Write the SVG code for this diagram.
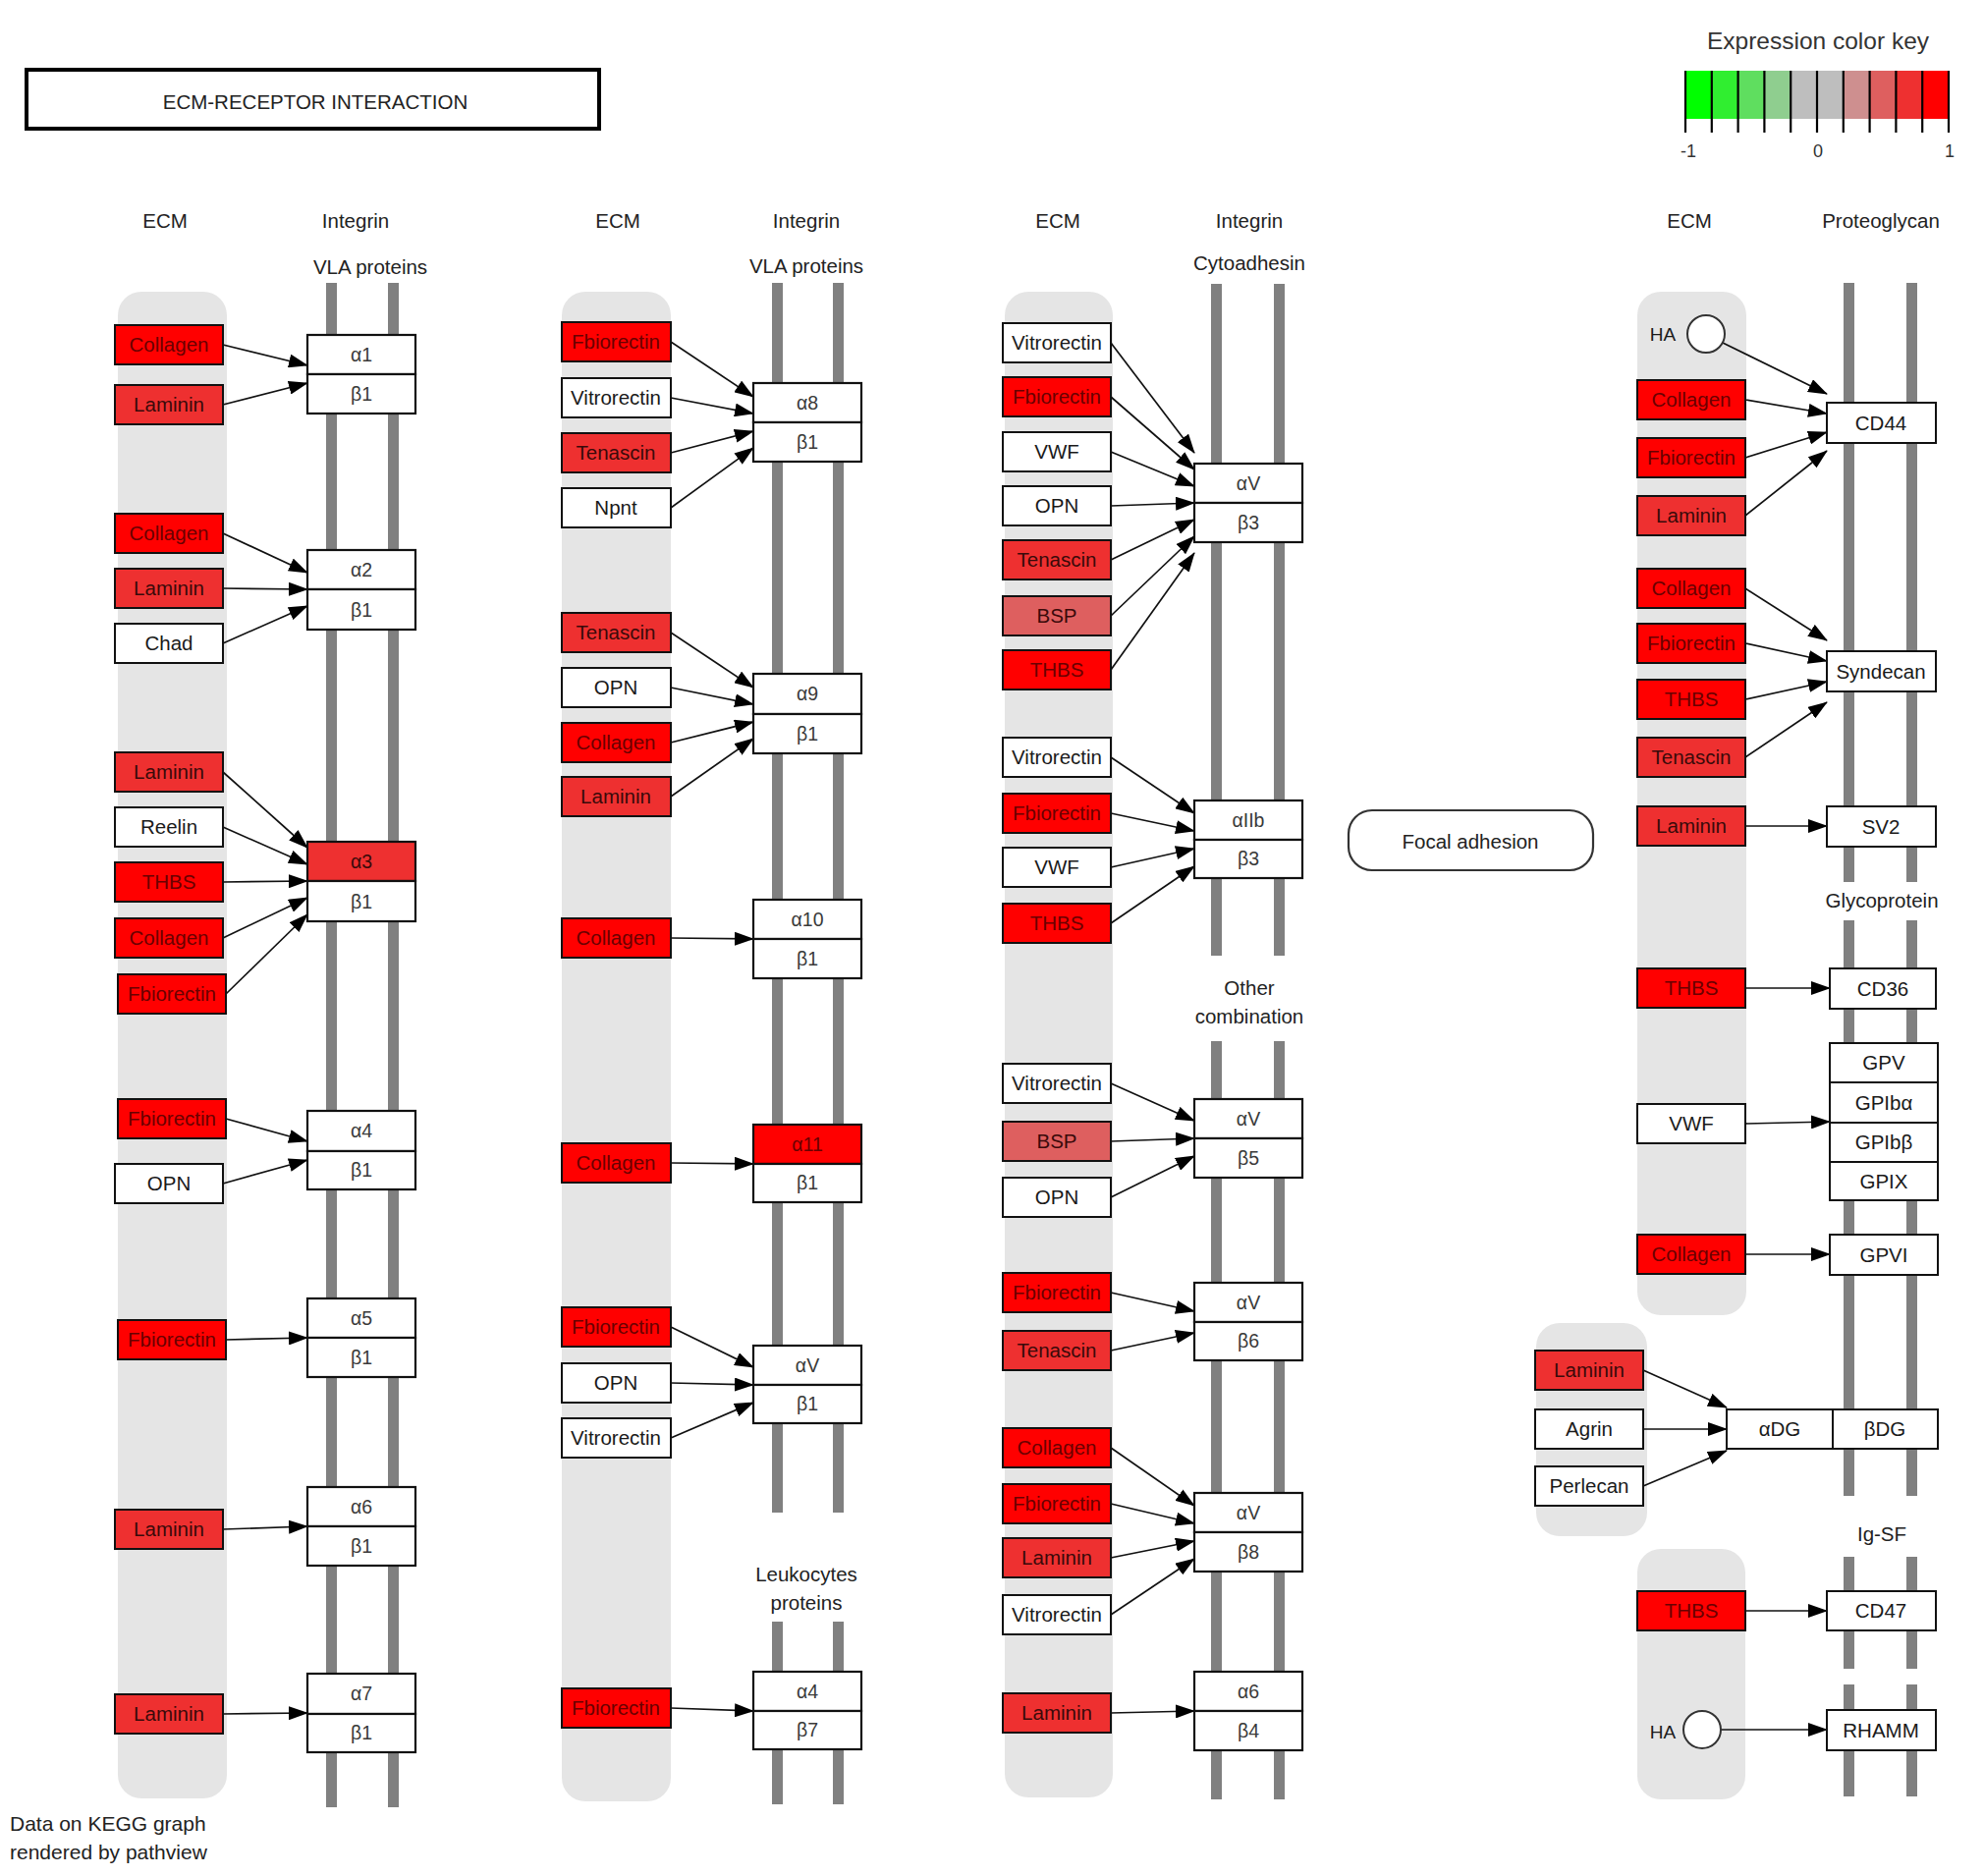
<svg xmlns="http://www.w3.org/2000/svg" width="2020" height="1910" viewBox="0 0 2020 1910">
<defs>
<style>
text{font-family:"Liberation Sans",Arial,Helvetica,sans-serif;text-anchor:middle}
.h{font-size:20.5px;fill:#222}
.t{font-size:20.5px;fill:#1a1a1a}
.tr{font-size:20.5px;fill:#6a0000}
.td{font-size:20.5px;fill:#3a0a0a}
.g{font-size:19.5px;fill:#3a3a3a}
.band{fill:#E5E5E5}
.bar{fill:#808080}
.n rect{stroke:#111;stroke-width:2}
.w{fill:#fff}
.r10{fill:#FF0000}
.r9{fill:#EE3030}
.r8{fill:#DE5F5F}
.i rect{stroke:#111;stroke-width:2.2}
.e line{stroke:#111;stroke-width:1.7;marker-end:url(#ah)}
.ha{fill:#fff;stroke:#333;stroke-width:2}
</style>
<marker id="ah" markerUnits="userSpaceOnUse" markerWidth="20" markerHeight="14" refX="19" refY="7" orient="auto"><path d="M0,0 L20,7 L0,14 z" fill="#000"/></marker>
</defs>
<rect width="2020" height="1910" fill="#fff"/>

<!-- title -->
<g id="title">
<rect x="27" y="71" width="583" height="60" fill="#fff" stroke="#000" stroke-width="4"/>
<text class="h" x="321" y="111">ECM-RECEPTOR INTERACTION</text>
</g>

<!-- color key -->
<g id="colorkey">
<text x="1851" y="50" style="font-size:24.5px;fill:#333">Expression color key</text>
<rect x="1716" y="72" width="26.8" height="49" fill="#00FF00"/>
<rect x="1742.8" y="72" width="26.8" height="49" fill="#30EE30"/>
<rect x="1769.6" y="72" width="26.8" height="49" fill="#5FDE5F"/>
<rect x="1796.4" y="72" width="26.8" height="49" fill="#8FCE8F"/>
<rect x="1823.2" y="72" width="26.8" height="49" fill="#BEBEBE"/>
<rect x="1850" y="72" width="26.8" height="49" fill="#BEBEBE"/>
<rect x="1876.8" y="72" width="26.8" height="49" fill="#CE8F8F"/>
<rect x="1903.6" y="72" width="26.8" height="49" fill="#DE5F5F"/>
<rect x="1930.4" y="72" width="26.8" height="49" fill="#EE3030"/>
<rect x="1957.2" y="72" width="26.8" height="49" fill="#FF0000"/>
<g stroke="#000" stroke-width="2.2">
<line x1="1716" y1="72" x2="1716" y2="135"/><line x1="1742.8" y1="72" x2="1742.8" y2="135"/>
<line x1="1769.6" y1="72" x2="1769.6" y2="135"/><line x1="1796.4" y1="72" x2="1796.4" y2="135"/>
<line x1="1823.2" y1="72" x2="1823.2" y2="135"/><line x1="1850" y1="72" x2="1850" y2="135"/>
<line x1="1876.8" y1="72" x2="1876.8" y2="135"/><line x1="1903.6" y1="72" x2="1903.6" y2="135"/>
<line x1="1930.4" y1="72" x2="1930.4" y2="135"/><line x1="1957.2" y1="72" x2="1957.2" y2="135"/>
<line x1="1984" y1="72" x2="1984" y2="135"/>
</g>
<text x="1719" y="160" style="font-size:18px;fill:#333">-1</text>
<text x="1851" y="160" style="font-size:18px;fill:#333">0</text>
<text x="1985" y="160" style="font-size:18px;fill:#333">1</text>
</g>

<!-- headers -->
<g id="headers" class="h">
<text class="h" x="168" y="232">ECM</text>
<text class="h" x="362" y="232">Integrin</text>
<text class="h" x="377" y="279">VLA proteins</text>
<text class="h" x="629" y="232">ECM</text>
<text class="h" x="821" y="232">Integrin</text>
<text class="h" x="821" y="278">VLA proteins</text>
<text class="h" x="1077" y="232">ECM</text>
<text class="h" x="1272" y="232">Integrin</text>
<text class="h" x="1272" y="275">Cytoadhesin</text>
<text class="h" x="1720" y="232">ECM</text>
<text class="h" x="1915" y="232">Proteoglycan</text>
<text class="h" x="1916" y="924">Glycoprotein</text>
<text class="h" x="1272" y="1013">Other</text>
<text class="h" x="1272" y="1042">combination</text>
<text class="h" x="821" y="1610">Leukocytes</text>
<text class="h" x="821" y="1639">proteins</text>
<text class="h" x="1916" y="1569">Ig-SF</text>
</g>

<!-- background bands and membrane bars -->
<g id="bands">
<rect class="band" x="120" y="297" width="111" height="1534" rx="24"/>
<rect class="band" x="572" y="297" width="111" height="1537" rx="24"/>
<rect class="band" x="1023" y="297" width="110" height="1533" rx="24"/>
<rect class="band" x="1667" y="297" width="111" height="1042" rx="24"/>
<rect class="band" x="1564" y="1347" width="113" height="217" rx="24"/>
<rect class="band" x="1667" y="1577" width="110" height="255" rx="24"/>
</g>
<g id="bars">
<rect class="bar" x="332" y="288" width="11" height="1552"/>
<rect class="bar" x="395" y="288" width="11" height="1552"/>
<rect class="bar" x="786" y="288" width="11" height="1252"/>
<rect class="bar" x="848" y="288" width="11" height="1252"/>
<rect class="bar" x="786" y="1651" width="11" height="186"/>
<rect class="bar" x="848" y="1651" width="11" height="186"/>
<rect class="bar" x="1233" y="289" width="11" height="684"/>
<rect class="bar" x="1297" y="289" width="11" height="684"/>
<rect class="bar" x="1233" y="1060" width="11" height="772"/>
<rect class="bar" x="1297" y="1060" width="11" height="772"/>
<rect class="bar" x="1877" y="288" width="11" height="610"/>
<rect class="bar" x="1941" y="288" width="11" height="610"/>
<rect class="bar" x="1877" y="937" width="11" height="586"/>
<rect class="bar" x="1941" y="937" width="11" height="586"/>
<rect class="bar" x="1877" y="1585" width="11" height="114"/>
<rect class="bar" x="1941" y="1585" width="11" height="114"/>
<rect class="bar" x="1877" y="1715" width="11" height="114"/>
<rect class="bar" x="1941" y="1715" width="11" height="114"/>
</g>

<!-- connectors -->
<g id="connectors" class="e">
<line x1="227" y1="351" x2="313" y2="372"/>
<line x1="227" y1="412" x2="313" y2="390"/>
<line x1="227" y1="543" x2="313" y2="583"/>
<line x1="227" y1="599" x2="313" y2="600"/>
<line x1="227" y1="655" x2="313" y2="617"/>
<line x1="227" y1="786" x2="313" y2="863"/>
<line x1="227" y1="842" x2="313" y2="880"/>
<line x1="227" y1="898" x2="313" y2="897"/>
<line x1="227" y1="955" x2="313" y2="914"/>
<line x1="230" y1="1012" x2="313" y2="931"/>
<line x1="230" y1="1139" x2="313" y2="1162"/>
<line x1="227" y1="1205" x2="313" y2="1181"/>
<line x1="230" y1="1364" x2="313" y2="1362"/>
<line x1="227" y1="1557" x2="313" y2="1554"/>
<line x1="227" y1="1745" x2="313" y2="1744"/>

<line x1="683" y1="348" x2="767" y2="404"/>
<line x1="683" y1="405" x2="767" y2="421"/>
<line x1="683" y1="461" x2="767" y2="439"/>
<line x1="683" y1="517" x2="767" y2="456"/>
<line x1="683" y1="644" x2="767" y2="700"/>
<line x1="683" y1="700" x2="767" y2="717"/>
<line x1="683" y1="756" x2="767" y2="735"/>
<line x1="683" y1="811" x2="767" y2="752"/>
<line x1="683" y1="955" x2="767" y2="956"/>
<line x1="683" y1="1184" x2="767" y2="1185"/>
<line x1="683" y1="1351" x2="767" y2="1392"/>
<line x1="683" y1="1408" x2="767" y2="1410"/>
<line x1="683" y1="1464" x2="767" y2="1428"/>
<line x1="683" y1="1739" x2="767" y2="1742"/>

<line x1="1131" y1="349" x2="1216" y2="461"/>
<line x1="1131" y1="404" x2="1216" y2="478"/>
<line x1="1131" y1="460" x2="1216" y2="495"/>
<line x1="1131" y1="515" x2="1216" y2="512"/>
<line x1="1131" y1="570" x2="1216" y2="529"/>
<line x1="1131" y1="627" x2="1216" y2="546"/>
<line x1="1131" y1="682" x2="1216" y2="563"/>
<line x1="1131" y1="771" x2="1216" y2="828"/>
<line x1="1131" y1="828" x2="1216" y2="846"/>
<line x1="1131" y1="883" x2="1216" y2="864"/>
<line x1="1131" y1="940" x2="1216" y2="882"/>
<line x1="1131" y1="1103" x2="1216" y2="1141"/>
<line x1="1131" y1="1162" x2="1216" y2="1159"/>
<line x1="1131" y1="1219" x2="1216" y2="1177"/>
<line x1="1131" y1="1316" x2="1216" y2="1335"/>
<line x1="1131" y1="1375" x2="1216" y2="1357"/>
<line x1="1131" y1="1474" x2="1216" y2="1533"/>
<line x1="1131" y1="1531" x2="1216" y2="1551"/>
<line x1="1131" y1="1586" x2="1216" y2="1569"/>
<line x1="1131" y1="1644" x2="1216" y2="1587"/>
<line x1="1131" y1="1744" x2="1216" y2="1742"/>

<line x1="1754" y1="349" x2="1860" y2="401"/>
<line x1="1777" y1="407" x2="1860" y2="421"/>
<line x1="1777" y1="466" x2="1860" y2="440"/>
<line x1="1777" y1="525" x2="1860" y2="459"/>
<line x1="1777" y1="599" x2="1860" y2="652"/>
<line x1="1777" y1="655" x2="1860" y2="673"/>
<line x1="1777" y1="712" x2="1860" y2="694"/>
<line x1="1777" y1="771" x2="1860" y2="715"/>
<line x1="1777" y1="841" x2="1860" y2="841"/>
<line x1="1777" y1="1006" x2="1863" y2="1006"/>
<line x1="1777" y1="1144" x2="1863" y2="1142"/>
<line x1="1777" y1="1277" x2="1863" y2="1277"/>
<line x1="1673" y1="1395" x2="1758" y2="1433"/>
<line x1="1673" y1="1455" x2="1758" y2="1455"/>
<line x1="1673" y1="1513" x2="1758" y2="1477"/>
<line x1="1777" y1="1640" x2="1860" y2="1640"/>
<line x1="1752" y1="1761" x2="1860" y2="1761"/>
</g>

<!-- ECM nodes column 1 -->
<g id="c1_collagen1" class="n"><rect class="r10" x="117" y="331" width="110" height="40"/><text class="tr" x="172" y="358">Collagen</text></g>
<g id="c1_laminin1" class="n"><rect class="r9" x="117" y="392" width="110" height="40"/><text class="td" x="172" y="419">Laminin</text></g>
<g id="c1_collagen2" class="n"><rect class="r10" x="117" y="523" width="110" height="40"/><text class="tr" x="172" y="550">Collagen</text></g>
<g id="c1_laminin2" class="n"><rect class="r9" x="117" y="579" width="110" height="40"/><text class="td" x="172" y="606">Laminin</text></g>
<g id="c1_chad" class="n"><rect class="w" x="117" y="635" width="110" height="40"/><text class="t" x="172" y="662">Chad</text></g>
<g id="c1_laminin3" class="n"><rect class="r9" x="117" y="766" width="110" height="40"/><text class="td" x="172" y="793">Laminin</text></g>
<g id="c1_reelin" class="n"><rect class="w" x="117" y="822" width="110" height="40"/><text class="t" x="172" y="849">Reelin</text></g>
<g id="c1_thbs" class="n"><rect class="r10" x="117" y="878" width="110" height="40"/><text class="tr" x="172" y="905">THBS</text></g>
<g id="c1_collagen3" class="n"><rect class="r10" x="117" y="935" width="110" height="40"/><text class="tr" x="172" y="962">Collagen</text></g>
<g id="c1_fbiorectin1" class="n"><rect class="r10" x="120" y="992" width="110" height="40"/><text class="tr" x="175" y="1019">Fbiorectin</text></g>
<g id="c1_fbiorectin2" class="n"><rect class="r10" x="120" y="1119" width="110" height="40"/><text class="tr" x="175" y="1146">Fbiorectin</text></g>
<g id="c1_opn" class="n"><rect class="w" x="117" y="1185" width="110" height="40"/><text class="t" x="172" y="1212">OPN</text></g>
<g id="c1_fbiorectin3" class="n"><rect class="r10" x="120" y="1344" width="110" height="40"/><text class="tr" x="175" y="1371">Fbiorectin</text></g>
<g id="c1_laminin4" class="n"><rect class="r9" x="117" y="1537" width="110" height="40"/><text class="td" x="172" y="1564">Laminin</text></g>
<g id="c1_laminin5" class="n"><rect class="r9" x="117" y="1725" width="110" height="40"/><text class="td" x="172" y="1752">Laminin</text></g>

<!-- integrins column 1 -->
<g id="a1b1" class="i"><rect class="w" x="313" y="341" width="110" height="40"/><rect class="w" x="313" y="381" width="110" height="40"/><text class="g" x="368" y="368">α1</text><text class="g" x="368" y="408">β1</text></g>
<g id="a2b1" class="i"><rect class="w" x="313" y="560" width="110" height="40"/><rect class="w" x="313" y="600" width="110" height="41"/><text class="g" x="368" y="587">α2</text><text class="g" x="368" y="628">β1</text></g>
<g id="a3b1" class="i"><rect class="r9" x="313" y="857" width="110" height="40"/><rect class="w" x="313" y="897" width="110" height="41"/><text class="td" style="font-size:19.5px" x="368" y="884">α3</text><text class="g" x="368" y="925">β1</text></g>
<g id="a4b1" class="i"><rect class="w" x="313" y="1131" width="110" height="41"/><rect class="w" x="313" y="1172" width="110" height="39"/><text class="g" x="368" y="1158">α4</text><text class="g" x="368" y="1198">β1</text></g>
<g id="a5b1" class="i"><rect class="w" x="313" y="1322" width="110" height="40"/><rect class="w" x="313" y="1362" width="110" height="40"/><text class="g" x="368" y="1349">α5</text><text class="g" x="368" y="1389">β1</text></g>
<g id="a6b1" class="i"><rect class="w" x="313" y="1514" width="110" height="40"/><rect class="w" x="313" y="1554" width="110" height="40"/><text class="g" x="368" y="1541">α6</text><text class="g" x="368" y="1581">β1</text></g>
<g id="a7b1" class="i"><rect class="w" x="313" y="1704" width="110" height="41"/><rect class="w" x="313" y="1745" width="110" height="39"/><text class="g" x="368" y="1731">α7</text><text class="g" x="368" y="1771">β1</text></g>

<!-- ECM nodes column 2 -->
<g id="c2_fbiorectin1" class="n"><rect class="r10" x="572" y="328" width="111" height="40"/><text class="tr" x="627" y="355">Fbiorectin</text></g>
<g id="c2_vitrorectin1" class="n"><rect class="w" x="572" y="385" width="111" height="40"/><text class="t" x="627" y="412">Vitrorectin</text></g>
<g id="c2_tenascin1" class="n"><rect class="r9" x="572" y="441" width="111" height="40"/><text class="td" x="627" y="468">Tenascin</text></g>
<g id="c2_npnt" class="n"><rect class="w" x="572" y="497" width="111" height="40"/><text class="t" x="627" y="524">Npnt</text></g>
<g id="c2_tenascin2" class="n"><rect class="r9" x="572" y="624" width="111" height="40"/><text class="td" x="627" y="651">Tenascin</text></g>
<g id="c2_opn1" class="n"><rect class="w" x="572" y="680" width="111" height="40"/><text class="t" x="627" y="707">OPN</text></g>
<g id="c2_collagen1" class="n"><rect class="r10" x="572" y="736" width="111" height="40"/><text class="tr" x="627" y="763">Collagen</text></g>
<g id="c2_laminin1" class="n"><rect class="r9" x="572" y="791" width="111" height="40"/><text class="td" x="627" y="818">Laminin</text></g>
<g id="c2_collagen2" class="n"><rect class="r10" x="572" y="935" width="111" height="40"/><text class="tr" x="627" y="962">Collagen</text></g>
<g id="c2_collagen3" class="n"><rect class="r10" x="572" y="1164" width="111" height="40"/><text class="tr" x="627" y="1191">Collagen</text></g>
<g id="c2_fbiorectin2" class="n"><rect class="r10" x="572" y="1331" width="111" height="40"/><text class="tr" x="627" y="1358">Fbiorectin</text></g>
<g id="c2_opn2" class="n"><rect class="w" x="572" y="1388" width="111" height="40"/><text class="t" x="627" y="1415">OPN</text></g>
<g id="c2_vitrorectin2" class="n"><rect class="w" x="572" y="1444" width="111" height="40"/><text class="t" x="627" y="1471">Vitrorectin</text></g>
<g id="c2_fbiorectin3" class="n"><rect class="r10" x="572" y="1719" width="111" height="40"/><text class="tr" x="627" y="1746">Fbiorectin</text></g>

<!-- integrins column 2 -->
<g id="a8b1" class="i"><rect class="w" x="767" y="390" width="110" height="40"/><rect class="w" x="767" y="430" width="110" height="40"/><text class="g" x="822" y="417">α8</text><text class="g" x="822" y="457">β1</text></g>
<g id="a9b1" class="i"><rect class="w" x="767" y="686" width="110" height="41"/><rect class="w" x="767" y="727" width="110" height="40"/><text class="g" x="822" y="713">α9</text><text class="g" x="822" y="754">β1</text></g>
<g id="a10b1" class="i"><rect class="w" x="767" y="916" width="110" height="40"/><rect class="w" x="767" y="956" width="110" height="40"/><text class="g" x="822" y="943">α10</text><text class="g" x="822" y="983">β1</text></g>
<g id="a11b1" class="i"><rect class="r10" x="767" y="1145" width="110" height="40"/><rect class="w" x="767" y="1185" width="110" height="39"/><text class="tr" style="font-size:19.5px" x="822" y="1172">α11</text><text class="g" x="822" y="1211">β1</text></g>
<g id="aVb1" class="i"><rect class="w" x="767" y="1370" width="110" height="40"/><rect class="w" x="767" y="1410" width="110" height="39"/><text class="g" x="822" y="1397">αV</text><text class="g" x="822" y="1436">β1</text></g>
<g id="a4b7" class="i"><rect class="w" x="767" y="1702" width="110" height="40"/><rect class="w" x="767" y="1742" width="110" height="39"/><text class="g" x="822" y="1729">α4</text><text class="g" x="822" y="1768">β7</text></g>

<!-- ECM nodes column 3 -->
<g id="c3_vitrorectin1" class="n"><rect class="w" x="1021" y="329" width="110" height="40"/><text class="t" x="1076" y="356">Vitrorectin</text></g>
<g id="c3_fbiorectin1" class="n"><rect class="r10" x="1021" y="384" width="110" height="40"/><text class="tr" x="1076" y="411">Fbiorectin</text></g>
<g id="c3_vwf1" class="n"><rect class="w" x="1021" y="440" width="110" height="40"/><text class="t" x="1076" y="467">VWF</text></g>
<g id="c3_opn1" class="n"><rect class="w" x="1021" y="495" width="110" height="40"/><text class="t" x="1076" y="522">OPN</text></g>
<g id="c3_tenascin1" class="n"><rect class="r9" x="1021" y="550" width="110" height="40"/><text class="td" x="1076" y="577">Tenascin</text></g>
<g id="c3_bsp1" class="n"><rect class="r8" x="1021" y="607" width="110" height="40"/><text class="td" x="1076" y="634">BSP</text></g>
<g id="c3_thbs1" class="n"><rect class="r10" x="1021" y="662" width="110" height="40"/><text class="tr" x="1076" y="689">THBS</text></g>
<g id="c3_vitrorectin2" class="n"><rect class="w" x="1021" y="751" width="110" height="40"/><text class="t" x="1076" y="778">Vitrorectin</text></g>
<g id="c3_fbiorectin2" class="n"><rect class="r10" x="1021" y="808" width="110" height="40"/><text class="tr" x="1076" y="835">Fbiorectin</text></g>
<g id="c3_vwf2" class="n"><rect class="w" x="1021" y="863" width="110" height="40"/><text class="t" x="1076" y="890">VWF</text></g>
<g id="c3_thbs2" class="n"><rect class="r10" x="1021" y="920" width="110" height="40"/><text class="tr" x="1076" y="947">THBS</text></g>
<g id="c3_vitrorectin3" class="n"><rect class="w" x="1021" y="1083" width="110" height="40"/><text class="t" x="1076" y="1110">Vitrorectin</text></g>
<g id="c3_bsp2" class="n"><rect class="r8" x="1021" y="1142" width="110" height="40"/><text class="td" x="1076" y="1169">BSP</text></g>
<g id="c3_opn2" class="n"><rect class="w" x="1021" y="1199" width="110" height="40"/><text class="t" x="1076" y="1226">OPN</text></g>
<g id="c3_fbiorectin3" class="n"><rect class="r10" x="1021" y="1296" width="110" height="40"/><text class="tr" x="1076" y="1323">Fbiorectin</text></g>
<g id="c3_tenascin2" class="n"><rect class="r9" x="1021" y="1355" width="110" height="40"/><text class="td" x="1076" y="1382">Tenascin</text></g>
<g id="c3_collagen" class="n"><rect class="r10" x="1021" y="1454" width="110" height="40"/><text class="tr" x="1076" y="1481">Collagen</text></g>
<g id="c3_fbiorectin4" class="n"><rect class="r10" x="1021" y="1511" width="110" height="40"/><text class="tr" x="1076" y="1538">Fbiorectin</text></g>
<g id="c3_laminin1" class="n"><rect class="r9" x="1021" y="1566" width="110" height="40"/><text class="td" x="1076" y="1593">Laminin</text></g>
<g id="c3_vitrorectin4" class="n"><rect class="w" x="1021" y="1624" width="110" height="40"/><text class="t" x="1076" y="1651">Vitrorectin</text></g>
<g id="c3_laminin2" class="n"><rect class="r9" x="1021" y="1724" width="110" height="40"/><text class="td" x="1076" y="1751">Laminin</text></g>

<!-- integrins column 3 -->
<g id="aVb3" class="i"><rect class="w" x="1216" y="472" width="110" height="40"/><rect class="w" x="1216" y="512" width="110" height="40"/><text class="g" x="1271" y="499">αV</text><text class="g" x="1271" y="539">β3</text></g>
<g id="aIIbb3" class="i"><rect class="w" x="1216" y="815" width="110" height="40"/><rect class="w" x="1216" y="855" width="110" height="39"/><text class="g" x="1271" y="842">αIIb</text><text class="g" x="1271" y="881">β3</text></g>
<g id="aVb5" class="i"><rect class="w" x="1216" y="1119" width="110" height="40"/><rect class="w" x="1216" y="1159" width="110" height="40"/><text class="g" x="1271" y="1146">αV</text><text class="g" x="1271" y="1186">β5</text></g>
<g id="aVb6" class="i"><rect class="w" x="1216" y="1306" width="110" height="40"/><rect class="w" x="1216" y="1346" width="110" height="39"/><text class="g" x="1271" y="1333">αV</text><text class="g" x="1271" y="1372">β6</text></g>
<g id="aVb8" class="i"><rect class="w" x="1216" y="1520" width="110" height="40"/><rect class="w" x="1216" y="1560" width="110" height="40"/><text class="g" x="1271" y="1547">αV</text><text class="g" x="1271" y="1587">β8</text></g>
<g id="a6b4" class="i"><rect class="w" x="1216" y="1702" width="110" height="40"/><rect class="w" x="1216" y="1742" width="110" height="40"/><text class="g" x="1271" y="1729">α6</text><text class="g" x="1271" y="1769">β4</text></g>

<!-- focal adhesion -->
<g id="focal_adhesion"><rect x="1373" y="825" width="249" height="61" rx="24" fill="#fff" stroke="#333" stroke-width="2.2"/><text class="h" x="1497" y="864">Focal adhesion</text></g>

<!-- ECM nodes column 4 -->
<g id="c4_ha1"><circle class="ha" cx="1737" cy="340" r="19"/><text class="t" x="1693" y="347" style="font-size:19px">HA</text></g>
<g id="c4_collagen1" class="n"><rect class="r10" x="1667" y="387" width="110" height="40"/><text class="tr" x="1722" y="414">Collagen</text></g>
<g id="c4_fbiorectin1" class="n"><rect class="r10" x="1667" y="446" width="110" height="40"/><text class="tr" x="1722" y="473">Fbiorectin</text></g>
<g id="c4_laminin1" class="n"><rect class="r9" x="1667" y="505" width="110" height="40"/><text class="td" x="1722" y="532">Laminin</text></g>
<g id="c4_collagen2" class="n"><rect class="r10" x="1667" y="579" width="110" height="40"/><text class="tr" x="1722" y="606">Collagen</text></g>
<g id="c4_fbiorectin2" class="n"><rect class="r10" x="1667" y="635" width="110" height="40"/><text class="tr" x="1722" y="662">Fbiorectin</text></g>
<g id="c4_thbs1" class="n"><rect class="r10" x="1667" y="692" width="110" height="40"/><text class="tr" x="1722" y="719">THBS</text></g>
<g id="c4_tenascin" class="n"><rect class="r9" x="1667" y="751" width="110" height="40"/><text class="td" x="1722" y="778">Tenascin</text></g>
<g id="c4_laminin2" class="n"><rect class="r9" x="1667" y="821" width="110" height="40"/><text class="td" x="1722" y="848">Laminin</text></g>
<g id="c4_thbs2" class="n"><rect class="r10" x="1667" y="986" width="110" height="40"/><text class="tr" x="1722" y="1013">THBS</text></g>
<g id="c4_vwf" class="n"><rect class="w" x="1667" y="1124" width="110" height="40"/><text class="t" x="1722" y="1151">VWF</text></g>
<g id="c4_collagen3" class="n"><rect class="r10" x="1667" y="1257" width="110" height="40"/><text class="tr" x="1722" y="1284">Collagen</text></g>
<g id="c4_laminin3" class="n"><rect class="r9" x="1563" y="1375" width="110" height="40"/><text class="td" x="1618" y="1402">Laminin</text></g>
<g id="c4_agrin" class="n"><rect class="w" x="1563" y="1435" width="110" height="40"/><text class="t" x="1618" y="1462">Agrin</text></g>
<g id="c4_perlecan" class="n"><rect class="w" x="1563" y="1493" width="110" height="40"/><text class="t" x="1618" y="1520">Perlecan</text></g>
<g id="c4_thbs3" class="n"><rect class="r10" x="1667" y="1620" width="110" height="40"/><text class="tr" x="1722" y="1647">THBS</text></g>
<g id="c4_ha2"><circle class="ha" cx="1733" cy="1761" r="19"/><text class="t" x="1693" y="1770" style="font-size:19px">HA</text></g>

<!-- receptors column 4 -->
<g id="cd44" class="n"><rect class="w" x="1860" y="410" width="111" height="41"/><text class="t" x="1915" y="438">CD44</text></g>
<g id="syndecan" class="n"><rect class="w" x="1860" y="663" width="111" height="41"/><text class="t" x="1915" y="691">Syndecan</text></g>
<g id="sv2" class="n"><rect class="w" x="1860" y="821" width="111" height="41"/><text class="t" x="1915" y="849">SV2</text></g>
<g id="cd36" class="n"><rect class="w" x="1863" y="986" width="108" height="41"/><text class="t" x="1917" y="1014">CD36</text></g>
<g id="gp_complex" class="n"><rect class="w" x="1863" y="1062" width="110" height="40"/><rect class="w" x="1863" y="1102" width="110" height="41"/><rect class="w" x="1863" y="1143" width="110" height="40"/><rect class="w" x="1863" y="1183" width="110" height="39"/><text class="t" x="1918" y="1089">GPV</text><text class="t" x="1918" y="1130">GPIbα</text><text class="t" x="1918" y="1170">GPIbβ</text><text class="t" x="1918" y="1210">GPIX</text></g>
<g id="gpvi" class="n"><rect class="w" x="1863" y="1257" width="110" height="41"/><text class="t" x="1918" y="1285">GPVI</text></g>
<g id="dg" class="n"><rect class="w" x="1758" y="1435" width="108" height="40"/><rect class="w" x="1866" y="1435" width="107" height="40"/><text class="t" x="1812" y="1462">αDG</text><text class="t" x="1919" y="1462">βDG</text></g>
<g id="cd47" class="n"><rect class="w" x="1860" y="1620" width="111" height="40"/><text class="t" x="1915" y="1647">CD47</text></g>
<g id="rhamm" class="n"><rect class="w" x="1860" y="1741" width="111" height="41"/><text class="t" x="1915" y="1769">RHAMM</text></g>

<!-- footnote -->
<g id="footnote">
<text x="10" y="1864" style="font-size:21px;fill:#222;text-anchor:start">Data on KEGG graph</text>
<text x="10" y="1893" style="font-size:21px;fill:#222;text-anchor:start">rendered by pathview</text>
</g>
</svg>
